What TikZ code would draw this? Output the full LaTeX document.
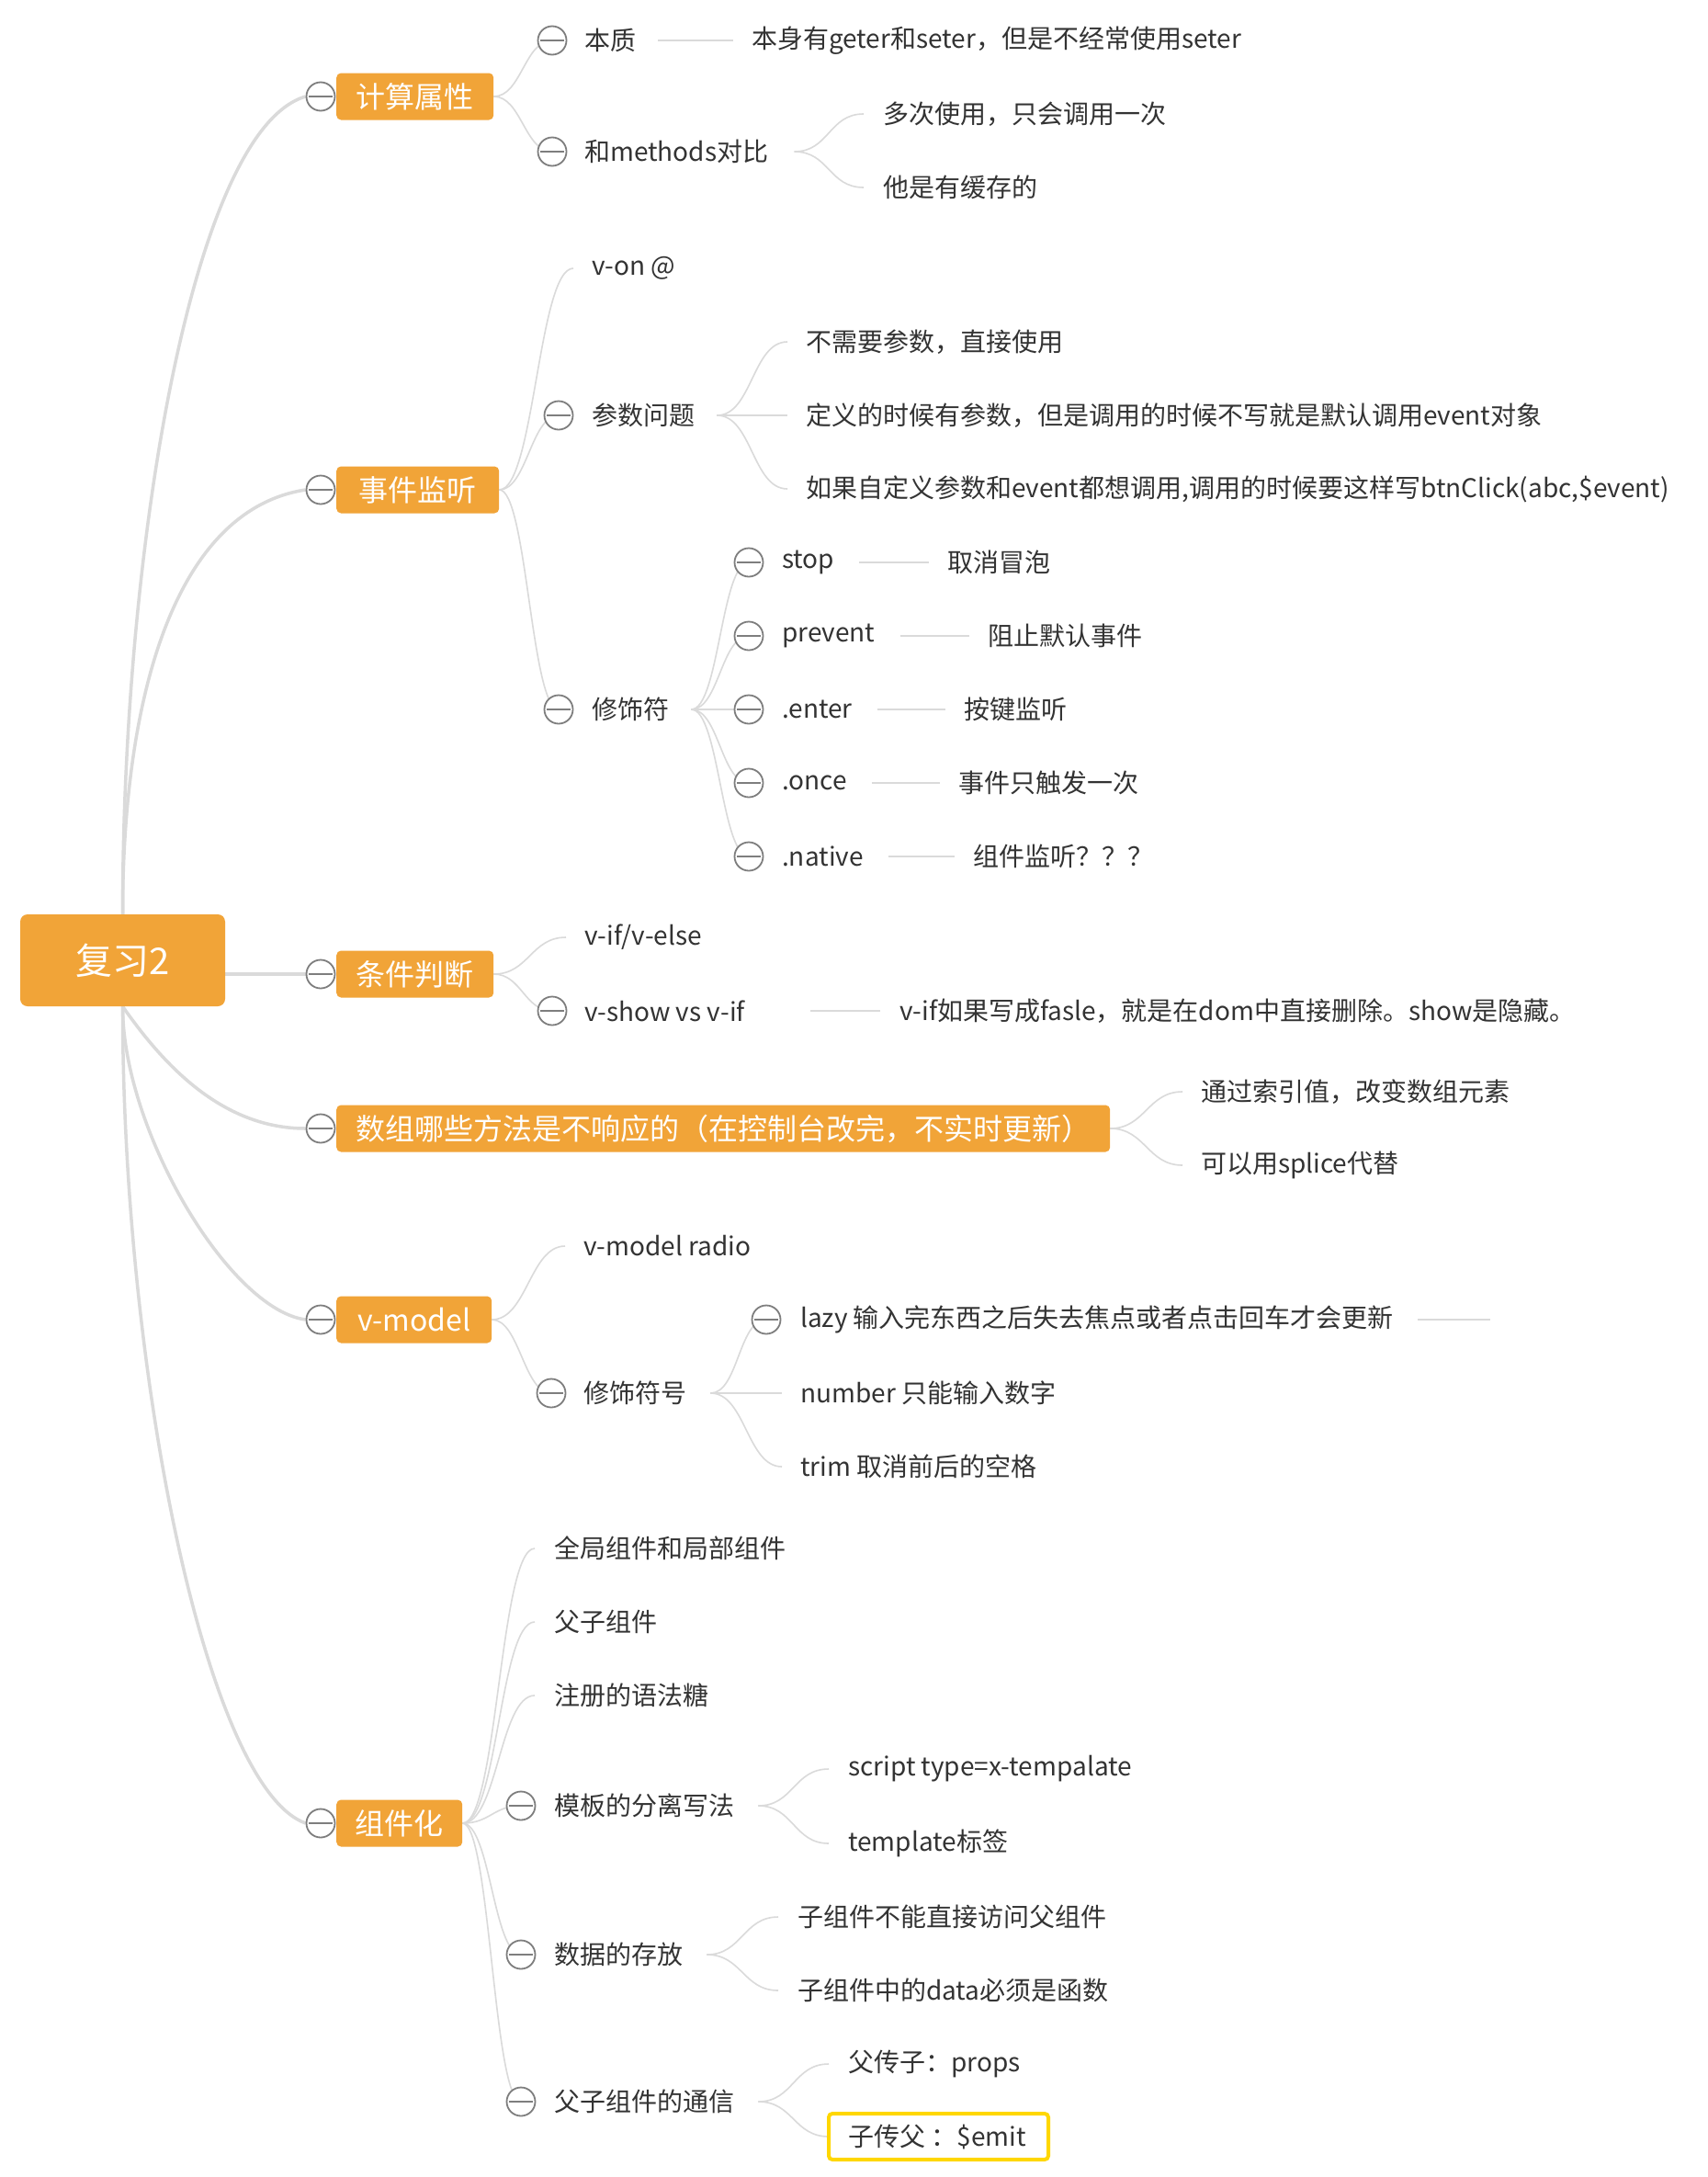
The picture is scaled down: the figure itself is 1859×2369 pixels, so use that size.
\documentclass[tikz,border=0pt]{standalone}
\usepackage{fontspec}
\setmainfont{Noto Sans CJK SC}
\usetikzlibrary{calc}
\definecolor{orng}{HTML}{F1A438}
\definecolor{txtc}{HTML}{333333}
\definecolor{cgray}{HTML}{7E7E7E}
\definecolor{lgray}{HTML}{DADADA}
\definecolor{ylw}{HTML}{FFD700}
\pgfdeclarelayer{bg}
\pgfsetlayers{bg,main}
\newcommand\mmlink[3]{\draw[twig] (#1) .. controls +(#3,0) and +(-#3,0) .. (#2);}
\begin{document}
\begin{tikzpicture}[x=1pt,y=-1pt,
  rootbox/.style={fill=orng, rounded corners=8pt, text=white, font=\fontsize{40}{48}\selectfont, minimum width=223pt, minimum height=100pt, inner sep=0pt},
  mainbox/.style={fill=orng, rounded corners=5pt, text=white, font=\fontsize{32}{38}\selectfont, minimum height=51pt, inner sep=0pt, anchor=west},
  leaf/.style={anchor=west, inner sep=0pt, text=txtc, font=\fontsize{28}{34}\selectfont},
  fold/.style={circle, draw=cgray, fill=white, line width=1.8pt, minimum size=31pt, inner sep=0pt,
    path picture={\draw[cgray, line width=1.8pt] ([xshift=-13pt]path picture bounding box.center) -- ([xshift=13pt]path picture bounding box.center);}},
  trunk/.style={draw=lgray, line width=3.5pt},
  twig/.style={draw=lgray, line width=1.6pt},
]
\useasboundingbox (0,0) rectangle (1859,2369);

% root
\node[rootbox] (root) at (133.5,1045) {复习2};

% main topics
\node[fold] (f1) at (349,105) {};
\node[mainbox, minimum width=171pt] (m1) at (366,105) {计算属性};
\node[fold] (f2) at (349,533) {};
\node[mainbox, minimum width=177pt] (m2) at (366,533) {事件监听};
\node[fold] (f3) at (349,1060) {};
\node[mainbox, minimum width=171pt] (m3) at (366,1060) {条件判断};
\node[fold] (f4) at (349,1228) {};
\node[mainbox, minimum width=842pt] (m4) at (366,1228) {数组哪些方法是不响应的（在控制台改完，不实时更新）};
\node[fold] (f5) at (349,1436) {};
\node[mainbox, minimum width=169pt] (m5) at (366,1436) {v-model};
\node[fold] (f6) at (349,1984) {};
\node[mainbox, minimum width=137pt] (m6) at (366,1984) {组件化};

% 计算属性
\node[fold] (ob1) at (601,44) {};
\node[leaf] (b1) at (636,44) {本质};
\node[leaf] (b1d) at (818,44) {本身有geter和seter，但是不经常使用seter};
\node[fold] (ob2) at (601,165) {};
\node[leaf] (b2) at (636,165) {和methods对比};
\node[leaf] (b2a) at (961,124) {多次使用，只会调用一次};
\node[leaf] (b2b) at (961,204) {他是有缓存的};

% 事件监听
\node[leaf] (von) at (644,292) {v-on @};
\node[fold] (opq) at (608,452) {};
\node[leaf] (pq) at (644,452) {参数问题};
\node[leaf] (pqa) at (877,372) {不需要参数，直接使用};
\node[leaf] (pqb) at (877,452) {定义的时候有参数，但是调用的时候不写就是默认调用event对象};
\node[leaf] (pqz) at (877,532) {如果自定义参数和event都想调用,调用的时候要这样写btnClick(abc,\$event)};
\node[fold] (oxs) at (608,772) {};
\node[leaf] (xs) at (644,772) {修饰符};
\node[fold] (os1) at (815,612) {};
\node[leaf] (s1) at (851,612) {stop};
\node[leaf] (s1d) at (1031,612) {取消冒泡};
\node[fold] (os2) at (815,692) {};
\node[leaf] (s2) at (851,692) {prevent};
\node[leaf] (s2d) at (1075,692) {阻止默认事件};
\node[fold] (os3) at (815,772) {};
\node[leaf] (s3) at (851,772) {.enter};
\node[leaf] (s3d) at (1049,772) {按键监听};
\node[fold] (os4) at (815,852) {};
\node[leaf] (s4) at (851,852) {.once};
\node[leaf] (s4d) at (1043,852) {事件只触发一次};
\node[fold] (os5) at (815,932) {};
\node[leaf] (s5) at (851,932) {.native};
\node[leaf] (s5d) at (1059,932) {组件监听？？？};

% 条件判断
\node[leaf] (vif) at (636,1020) {v-if/v-else};
\node[fold] (ovs) at (601,1100) {};
\node[leaf] (vs) at (636,1100) {v-show vs v-if};
\node[leaf] (vsd) at (979,1100) {v-if如果写成fasle，就是在dom中直接删除。show是隐藏。};

% 数组
\node[leaf] (a1) at (1307,1188) {通过索引值，改变数组元素};
\node[leaf] (a2) at (1307,1268) {可以用splice代替};

% v-model
\node[leaf] (vmr) at (635,1356) {v-model radio};
\node[fold] (oxf) at (600,1516) {};
\node[leaf] (xf) at (635,1516) {修饰符号};
\node[fold] (olz) at (834,1436) {};
\node[leaf] (lz) at (871,1436) {lazy 输入完东西之后失去焦点或者点击回车才会更新};
\coordinate (lzend) at (1622,1436);
\node[leaf] (nb) at (871,1516) {number 只能输入数字};
\node[leaf] (tr) at (871,1596) {trim 取消前后的空格};

% 组件化
\node[leaf] (g1) at (603,1685) {全局组件和局部组件};
\node[leaf] (g2) at (603,1765) {父子组件};
\node[leaf] (g3) at (603,1845) {注册的语法糖};
\node[fold] (omb) at (567,1965) {};
\node[leaf] (mb) at (603,1965) {模板的分离写法};
\node[leaf] (mba) at (923,1925) {script type=x-tempalate};
\node[leaf] (mbb) at (923,2006) {template标签};
\node[fold] (osj) at (567,2127) {};
\node[leaf] (sj) at (603,2127) {数据的存放};
\node[leaf] (sja) at (868,2086) {子组件不能直接访问父组件};
\node[leaf] (sjb) at (868,2166) {子组件中的data必须是函数};
\node[fold] (otx) at (567,2287) {};
\node[leaf] (tx) at (603,2287) {父子组件的通信};
\node[leaf] (txa) at (923,2246) {父传子：props};
\node[leaf] (txb) at (923,2325) {子传父 ：\$emit};
\draw[draw=ylw, line width=4pt, rounded corners=4pt] ([xshift=-21pt]txb.west |- 0,2300) rectangle (1141,2350);

\begin{pgfonlayer}{bg}
\fill[white] (0,0) rectangle (1859,2369);
% trunks
\draw[trunk] (root.north) .. controls +(0,-400) and +(-123,36) .. (f1.west);
\draw[trunk] (root.north) .. controls +(0,-235) and +(-143,22) .. (f2.west);
\draw[trunk] (root.east |- f3) -- (f3.west);
\draw[trunk] (root.south) .. controls +(42,60) and +(-93,0) .. (f4.west);
\draw[trunk] (root.south) .. controls +(0,135) and +(-83,-11) .. (f5.west);
\draw[trunk] (root.south) .. controls +(0,400) and +(-108,-39) .. (f6.west);
% 计算属性
\mmlink{m1.east}{ob1.center}{30}
\mmlink{m1.east}{ob2.center}{30}
\draw[twig] ([xshift=24pt]b1.east) -- ([xshift=-20pt]b1d.west);
\mmlink{[xshift=28pt]b2.east}{[xshift=-21pt]b2a.west}{38}
\mmlink{[xshift=28pt]b2.east}{[xshift=-21pt]b2b.west}{38}
% 事件监听
\mmlink{m2.east}{[xshift=-20pt]von.west}{38}
\mmlink{m2.east}{opq.center}{30}
\mmlink{m2.east}{oxs.center}{30}
\mmlink{[xshift=24pt]pq.east}{[xshift=-20pt]pqa.west}{38}
\mmlink{[xshift=24pt]pq.east}{[xshift=-20pt]pqb.west}{38}
\mmlink{[xshift=24pt]pq.east}{[xshift=-20pt]pqz.west}{38}
\mmlink{[xshift=24pt]xs.east}{os1.center}{30}
\mmlink{[xshift=24pt]xs.east}{os2.center}{30}
\mmlink{[xshift=24pt]xs.east}{os3.center}{30}
\mmlink{[xshift=24pt]xs.east}{os4.center}{30}
\mmlink{[xshift=24pt]xs.east}{os5.center}{30}
\draw[twig] ([xshift=27pt]s1.east) -- ([xshift=-20pt]s1d.west);
\draw[twig] ([xshift=27pt]s2.east) -- ([xshift=-20pt]s2d.west);
\draw[twig] ([xshift=27pt]s3.east) -- ([xshift=-20pt]s3d.west);
\draw[twig] ([xshift=27pt]s4.east) -- ([xshift=-20pt]s4d.west);
\draw[twig] ([xshift=27pt]s5.east) -- ([xshift=-20pt]s5d.west);
% 条件判断
\mmlink{m3.east}{[xshift=-20pt]vif.west}{38}
\mmlink{m3.east}{ovs.center}{30}
\draw[twig] ([xshift=71pt]vs.east) -- ([xshift=-21pt]vsd.west);
% 数组
\mmlink{m4.east}{[xshift=-20pt]a1.west}{38}
\mmlink{m4.east}{[xshift=-20pt]a2.west}{38}
% v-model
\mmlink{m5.east}{[xshift=-20pt]vmr.west}{38}
\mmlink{m5.east}{oxf.center}{30}
\mmlink{[xshift=26pt]xf.east}{olz.center}{30}
\mmlink{[xshift=26pt]xf.east}{[xshift=-20pt]nb.west}{38}
\mmlink{[xshift=26pt]xf.east}{[xshift=-20pt]tr.west}{38}
\draw[twig] ([xshift=26pt]lz.east) -- (lzend);
% 组件化
\mmlink{m6.east}{[xshift=-21pt]g1.west}{38}
\mmlink{m6.east}{[xshift=-21pt]g2.west}{38}
\mmlink{m6.east}{[xshift=-21pt]g3.west}{38}
\mmlink{m6.east}{omb.center}{30}
\mmlink{m6.east}{osj.center}{30}
\mmlink{m6.east}{otx.center}{30}
\mmlink{[xshift=26pt]mb.east}{[xshift=-21pt]mba.west}{38}
\mmlink{[xshift=26pt]mb.east}{[xshift=-21pt]mbb.west}{38}
\mmlink{[xshift=26pt]sj.east}{[xshift=-21pt]sja.west}{38}
\mmlink{[xshift=26pt]sj.east}{[xshift=-21pt]sjb.west}{38}
\mmlink{[xshift=26pt]tx.east}{[xshift=-21pt]txa.west}{38}
\mmlink{[xshift=26pt]tx.east}{[xshift=-21pt]txb.west}{38}
\end{pgfonlayer}
\end{tikzpicture}
\end{document}
